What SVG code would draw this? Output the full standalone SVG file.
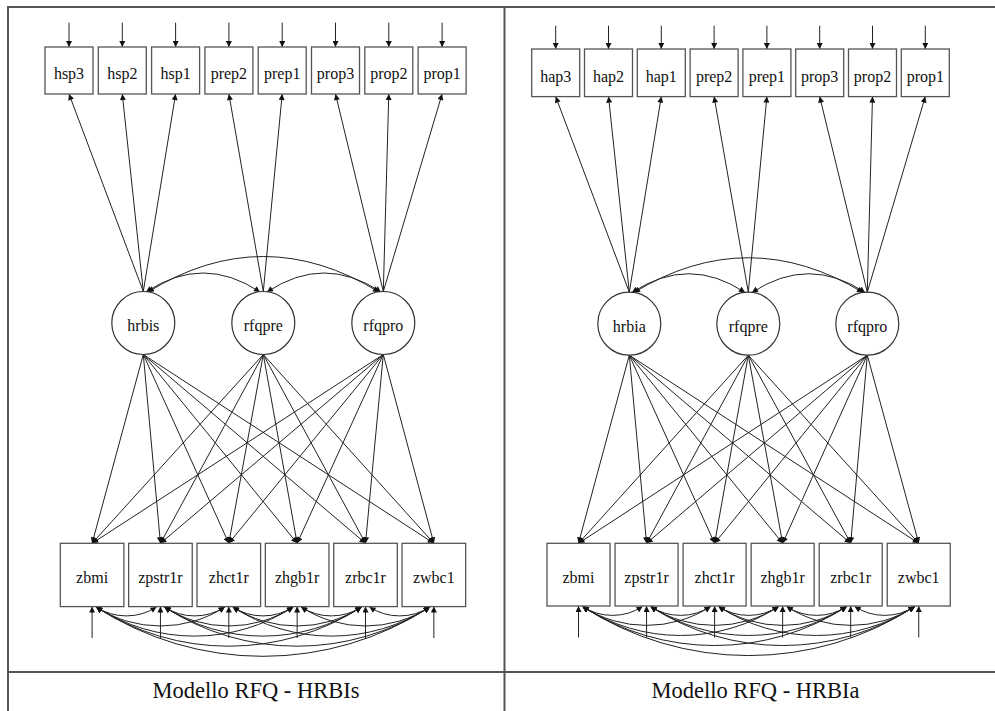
<svg xmlns="http://www.w3.org/2000/svg" width="995" height="711" viewBox="0 0 995 711">
<style>
.bx{fill:#fff;stroke:#555;stroke-width:1.3}
.lv{fill:#fff;stroke:#333;stroke-width:1.2}
.t{font-family:"Liberation Serif","Tinos","Times New Roman","DejaVu Serif",serif;font-size:16px;text-anchor:middle;fill:#111}
.ti{font-family:"Liberation Serif","Tinos","Times New Roman","DejaVu Serif",serif;font-size:22.5px;text-anchor:middle;fill:#111}
.e{stroke:#222;stroke-width:1;fill:none;marker-end:url(#ah)}
.c{stroke:#222;stroke-width:1;fill:none;marker-start:url(#ah);marker-end:url(#ah)}
.fr{stroke:#555;stroke-width:2;fill:none}
</style>
<defs>
<marker id="ah" viewBox="0 0 10 10" refX="10" refY="5" markerWidth="7" markerHeight="6" markerUnits="userSpaceOnUse" orient="auto-start-reverse"><path d="M0,0 L10,5 L0,10 z" fill="#111"/></marker>
</defs>
<rect width="995" height="711" fill="#fff"/>
<g id="frame">
<line class="fr" x1="7" y1="7" x2="995" y2="7"/>
<line class="fr" x1="8" y1="6" x2="8" y2="711"/>
<line class="fr" x1="504.5" y1="6" x2="504.5" y2="711"/>
<line class="fr" x1="8" y1="672" x2="995" y2="672"/>
</g>
<g id="connectors">
<line class="e" x1="69" y1="22.7" x2="69" y2="47"/>
<line class="e" x1="122.3" y1="22.7" x2="122.3" y2="47"/>
<line class="e" x1="175.6" y1="22.7" x2="175.6" y2="47"/>
<line class="e" x1="228.9" y1="22.7" x2="228.9" y2="47"/>
<line class="e" x1="282.2" y1="22.7" x2="282.2" y2="47"/>
<line class="e" x1="335.5" y1="22.7" x2="335.5" y2="47"/>
<line class="e" x1="388.8" y1="22.7" x2="388.8" y2="47"/>
<line class="e" x1="442.1" y1="22.7" x2="442.1" y2="47"/>
<line class="e" x1="143.3" y1="291.5" x2="69" y2="94"/>
<line class="e" x1="143.3" y1="291.5" x2="122.3" y2="94"/>
<line class="e" x1="143.3" y1="291.5" x2="175.6" y2="94"/>
<line class="e" x1="263.3" y1="291.5" x2="228.9" y2="94"/>
<line class="e" x1="263.3" y1="291.5" x2="282.2" y2="94"/>
<line class="e" x1="383.3" y1="291.5" x2="335.5" y2="94"/>
<line class="e" x1="383.3" y1="291.5" x2="388.8" y2="94"/>
<line class="e" x1="383.3" y1="291.5" x2="442.1" y2="94"/>
<path class="c" d="M146,292 Q203,254 260,292"/>
<path class="c" d="M267,292 Q324,254 381,292"/>
<path class="c" d="M148,292 Q263,221 379,292"/>
<line class="e" x1="143.3" y1="354.5" x2="92.1" y2="543.3"/>
<line class="e" x1="143.3" y1="354.5" x2="160.45" y2="543.3"/>
<line class="e" x1="143.3" y1="354.5" x2="228.8" y2="543.3"/>
<line class="e" x1="143.3" y1="354.5" x2="297.15" y2="543.3"/>
<line class="e" x1="143.3" y1="354.5" x2="365.5" y2="543.3"/>
<line class="e" x1="143.3" y1="354.5" x2="433.85" y2="543.3"/>
<line class="e" x1="263.3" y1="354.5" x2="92.1" y2="543.3"/>
<line class="e" x1="263.3" y1="354.5" x2="160.45" y2="543.3"/>
<line class="e" x1="263.3" y1="354.5" x2="228.8" y2="543.3"/>
<line class="e" x1="263.3" y1="354.5" x2="297.15" y2="543.3"/>
<line class="e" x1="263.3" y1="354.5" x2="365.5" y2="543.3"/>
<line class="e" x1="263.3" y1="354.5" x2="433.85" y2="543.3"/>
<line class="e" x1="383.3" y1="354.5" x2="92.1" y2="543.3"/>
<line class="e" x1="383.3" y1="354.5" x2="160.45" y2="543.3"/>
<line class="e" x1="383.3" y1="354.5" x2="228.8" y2="543.3"/>
<line class="e" x1="383.3" y1="354.5" x2="297.15" y2="543.3"/>
<line class="e" x1="383.3" y1="354.5" x2="365.5" y2="543.3"/>
<line class="e" x1="383.3" y1="354.5" x2="433.85" y2="543.3"/>
<line class="e" x1="92.1" y1="638" x2="92.1" y2="606.6"/>
<line class="e" x1="160.45" y1="638" x2="160.45" y2="606.6"/>
<line class="e" x1="228.8" y1="638" x2="228.8" y2="606.6"/>
<line class="e" x1="297.15" y1="638" x2="297.15" y2="606.6"/>
<line class="e" x1="365.5" y1="638" x2="365.5" y2="606.6"/>
<line class="e" x1="433.85" y1="638" x2="433.85" y2="606.6"/>
<path class="c" d="M96.1,607 A55.5,55.5 0 0 0 156.45,607"/>
<path class="c" d="M96.1,607 A118.4,118.4 0 0 0 224.8,607"/>
<path class="c" d="M96.1,607 A181.3,181.3 0 0 0 293.15,607"/>
<path class="c" d="M96.1,607 A244.2,244.2 0 0 0 361.5,607"/>
<path class="c" d="M96.1,607 A307,307 0 0 0 429.85,607"/>
<path class="c" d="M164.45,607 A55.5,55.5 0 0 0 224.8,607"/>
<path class="c" d="M164.45,607 A118.4,118.4 0 0 0 293.15,607"/>
<path class="c" d="M164.45,607 A181.3,181.3 0 0 0 361.5,607"/>
<path class="c" d="M164.45,607 A244.2,244.2 0 0 0 429.85,607"/>
<path class="c" d="M232.8,607 A55.5,55.5 0 0 0 293.15,607"/>
<path class="c" d="M232.8,607 A118.4,118.4 0 0 0 361.5,607"/>
<path class="c" d="M232.8,607 A181.3,181.3 0 0 0 429.85,607"/>
<path class="c" d="M301.15,607 A55.5,55.5 0 0 0 361.5,607"/>
<path class="c" d="M301.15,607 A118.4,118.4 0 0 0 429.85,607"/>
<path class="c" d="M369.5,607 A55.5,55.5 0 0 0 429.85,607"/>
<line class="e" x1="555.7" y1="25.7" x2="555.7" y2="49"/>
<line class="e" x1="608.5" y1="25.7" x2="608.5" y2="49"/>
<line class="e" x1="661.3" y1="25.7" x2="661.3" y2="49"/>
<line class="e" x1="714.1" y1="25.7" x2="714.1" y2="49"/>
<line class="e" x1="766.9" y1="25.7" x2="766.9" y2="49"/>
<line class="e" x1="819.7" y1="25.7" x2="819.7" y2="49"/>
<line class="e" x1="872.5" y1="25.7" x2="872.5" y2="49"/>
<line class="e" x1="925.3" y1="25.7" x2="925.3" y2="49"/>
<line class="e" x1="629.3" y1="292.2" x2="555.7" y2="96.6"/>
<line class="e" x1="629.3" y1="292.2" x2="608.5" y2="96.6"/>
<line class="e" x1="629.3" y1="292.2" x2="661.3" y2="96.6"/>
<line class="e" x1="748.3" y1="292.2" x2="714.1" y2="96.6"/>
<line class="e" x1="748.3" y1="292.2" x2="766.9" y2="96.6"/>
<line class="e" x1="867.3" y1="292.2" x2="819.7" y2="96.6"/>
<line class="e" x1="867.3" y1="292.2" x2="872.5" y2="96.6"/>
<line class="e" x1="867.3" y1="292.2" x2="925.3" y2="96.6"/>
<path class="c" d="M632,292.5 Q689,255 745,292.5"/>
<path class="c" d="M752,292.5 Q809,255 865,292.5"/>
<path class="c" d="M634,292.5 Q748,223 863,292.5"/>
<line class="e" x1="629.3" y1="355.2" x2="578.5" y2="543.3"/>
<line class="e" x1="629.3" y1="355.2" x2="646.55" y2="543.3"/>
<line class="e" x1="629.3" y1="355.2" x2="714.6" y2="543.3"/>
<line class="e" x1="629.3" y1="355.2" x2="782.65" y2="543.3"/>
<line class="e" x1="629.3" y1="355.2" x2="850.7" y2="543.3"/>
<line class="e" x1="629.3" y1="355.2" x2="918.75" y2="543.3"/>
<line class="e" x1="748.3" y1="355.2" x2="578.5" y2="543.3"/>
<line class="e" x1="748.3" y1="355.2" x2="646.55" y2="543.3"/>
<line class="e" x1="748.3" y1="355.2" x2="714.6" y2="543.3"/>
<line class="e" x1="748.3" y1="355.2" x2="782.65" y2="543.3"/>
<line class="e" x1="748.3" y1="355.2" x2="850.7" y2="543.3"/>
<line class="e" x1="748.3" y1="355.2" x2="918.75" y2="543.3"/>
<line class="e" x1="867.3" y1="355.2" x2="578.5" y2="543.3"/>
<line class="e" x1="867.3" y1="355.2" x2="646.55" y2="543.3"/>
<line class="e" x1="867.3" y1="355.2" x2="714.6" y2="543.3"/>
<line class="e" x1="867.3" y1="355.2" x2="782.65" y2="543.3"/>
<line class="e" x1="867.3" y1="355.2" x2="850.7" y2="543.3"/>
<line class="e" x1="867.3" y1="355.2" x2="918.75" y2="543.3"/>
<line class="e" x1="578.5" y1="637.5" x2="578.5" y2="606"/>
<line class="e" x1="646.55" y1="637.5" x2="646.55" y2="606"/>
<line class="e" x1="714.6" y1="637.5" x2="714.6" y2="606"/>
<line class="e" x1="782.65" y1="637.5" x2="782.65" y2="606"/>
<line class="e" x1="850.7" y1="637.5" x2="850.7" y2="606"/>
<line class="e" x1="918.75" y1="637.5" x2="918.75" y2="606"/>
<path class="c" d="M582.5,606.5 A55.2,55.2 0 0 0 642.55,606.5"/>
<path class="c" d="M582.5,606.5 A117.9,117.9 0 0 0 710.6,606.5"/>
<path class="c" d="M582.5,606.5 A180.5,180.5 0 0 0 778.65,606.5"/>
<path class="c" d="M582.5,606.5 A243.1,243.1 0 0 0 846.7,606.5"/>
<path class="c" d="M582.5,606.5 A305.7,305.7 0 0 0 914.75,606.5"/>
<path class="c" d="M650.55,606.5 A55.2,55.2 0 0 0 710.6,606.5"/>
<path class="c" d="M650.55,606.5 A117.9,117.9 0 0 0 778.65,606.5"/>
<path class="c" d="M650.55,606.5 A180.5,180.5 0 0 0 846.7,606.5"/>
<path class="c" d="M650.55,606.5 A243.1,243.1 0 0 0 914.75,606.5"/>
<path class="c" d="M718.6,606.5 A55.2,55.2 0 0 0 778.65,606.5"/>
<path class="c" d="M718.6,606.5 A117.9,117.9 0 0 0 846.7,606.5"/>
<path class="c" d="M718.6,606.5 A180.5,180.5 0 0 0 914.75,606.5"/>
<path class="c" d="M786.65,606.5 A55.2,55.2 0 0 0 846.7,606.5"/>
<path class="c" d="M786.65,606.5 A117.9,117.9 0 0 0 914.75,606.5"/>
<path class="c" d="M854.7,606.5 A55.2,55.2 0 0 0 914.75,606.5"/>
</g>
<g id="L_hsp3"><rect class="bx" x="45" y="47" width="48" height="47"/><text class="t" x="69" y="79">hsp3</text></g>
<g id="L_hsp2"><rect class="bx" x="98.3" y="47" width="48" height="47"/><text class="t" x="122.3" y="79">hsp2</text></g>
<g id="L_hsp1"><rect class="bx" x="151.6" y="47" width="48" height="47"/><text class="t" x="175.6" y="79">hsp1</text></g>
<g id="L_prep2"><rect class="bx" x="204.9" y="47" width="48" height="47"/><text class="t" x="228.9" y="79">prep2</text></g>
<g id="L_prep1"><rect class="bx" x="258.2" y="47" width="48" height="47"/><text class="t" x="282.2" y="79">prep1</text></g>
<g id="L_prop3"><rect class="bx" x="311.5" y="47" width="48" height="47"/><text class="t" x="335.5" y="79">prop3</text></g>
<g id="L_prop2"><rect class="bx" x="364.8" y="47" width="48" height="47"/><text class="t" x="388.8" y="79">prop2</text></g>
<g id="L_prop1"><rect class="bx" x="418.1" y="47" width="48" height="47"/><text class="t" x="442.1" y="79">prop1</text></g>
<g id="L_hrbis"><circle class="lv" cx="143.3" cy="323" r="31.5"/><text class="t" x="143.3" y="331">hrbis</text></g>
<g id="L_rfqpre"><circle class="lv" cx="263.3" cy="323" r="31.5"/><text class="t" x="263.3" y="331">rfqpre</text></g>
<g id="L_rfqpro"><circle class="lv" cx="383.3" cy="323" r="31.5"/><text class="t" x="383.3" y="331">rfqpro</text></g>
<g id="L_zbmi"><rect class="bx" x="60.3" y="543.3" width="63.6" height="63.3"/><text class="t" x="92.1" y="583">zbmi</text></g>
<g id="L_zpstr1r"><rect class="bx" x="128.65" y="543.3" width="63.6" height="63.3"/><text class="t" x="160.45" y="583">zpstr1r</text></g>
<g id="L_zhct1r"><rect class="bx" x="197" y="543.3" width="63.6" height="63.3"/><text class="t" x="228.8" y="583">zhct1r</text></g>
<g id="L_zhgb1r"><rect class="bx" x="265.35" y="543.3" width="63.6" height="63.3"/><text class="t" x="297.15" y="583">zhgb1r</text></g>
<g id="L_zrbc1r"><rect class="bx" x="333.7" y="543.3" width="63.6" height="63.3"/><text class="t" x="365.5" y="583">zrbc1r</text></g>
<g id="L_zwbc1"><rect class="bx" x="402.05" y="543.3" width="63.6" height="63.3"/><text class="t" x="433.85" y="583">zwbc1</text></g>
<g id="L_title"><text class="ti" x="256" y="698">Modello RFQ - HRBIs</text></g>
<g id="R_hap3"><rect class="bx" x="531.7" y="49" width="48" height="47.6"/><text class="t" x="555.7" y="81.5">hap3</text></g>
<g id="R_hap2"><rect class="bx" x="584.5" y="49" width="48" height="47.6"/><text class="t" x="608.5" y="81.5">hap2</text></g>
<g id="R_hap1"><rect class="bx" x="637.3" y="49" width="48" height="47.6"/><text class="t" x="661.3" y="81.5">hap1</text></g>
<g id="R_prep2"><rect class="bx" x="690.1" y="49" width="48" height="47.6"/><text class="t" x="714.1" y="81.5">prep2</text></g>
<g id="R_prep1"><rect class="bx" x="742.9" y="49" width="48" height="47.6"/><text class="t" x="766.9" y="81.5">prep1</text></g>
<g id="R_prop3"><rect class="bx" x="795.7" y="49" width="48" height="47.6"/><text class="t" x="819.7" y="81.5">prop3</text></g>
<g id="R_prop2"><rect class="bx" x="848.5" y="49" width="48" height="47.6"/><text class="t" x="872.5" y="81.5">prop2</text></g>
<g id="R_prop1"><rect class="bx" x="901.3" y="49" width="48" height="47.6"/><text class="t" x="925.3" y="81.5">prop1</text></g>
<g id="R_hrbia"><circle class="lv" cx="629.3" cy="323.7" r="31.5"/><text class="t" x="629.3" y="331.7">hrbia</text></g>
<g id="R_rfqpre"><circle class="lv" cx="748.3" cy="323.7" r="31.5"/><text class="t" x="748.3" y="331.7">rfqpre</text></g>
<g id="R_rfqpro"><circle class="lv" cx="867.3" cy="323.7" r="31.5"/><text class="t" x="867.3" y="331.7">rfqpro</text></g>
<g id="R_zbmi"><rect class="bx" x="547" y="543.3" width="63" height="62.7"/><text class="t" x="578.5" y="582.5">zbmi</text></g>
<g id="R_zpstr1r"><rect class="bx" x="615.05" y="543.3" width="63" height="62.7"/><text class="t" x="646.55" y="582.5">zpstr1r</text></g>
<g id="R_zhct1r"><rect class="bx" x="683.1" y="543.3" width="63" height="62.7"/><text class="t" x="714.6" y="582.5">zhct1r</text></g>
<g id="R_zhgb1r"><rect class="bx" x="751.15" y="543.3" width="63" height="62.7"/><text class="t" x="782.65" y="582.5">zhgb1r</text></g>
<g id="R_zrbc1r"><rect class="bx" x="819.2" y="543.3" width="63" height="62.7"/><text class="t" x="850.7" y="582.5">zrbc1r</text></g>
<g id="R_zwbc1"><rect class="bx" x="887.25" y="543.3" width="63" height="62.7"/><text class="t" x="918.75" y="582.5">zwbc1</text></g>
<g id="R_title"><text class="ti" x="755.5" y="698">Modello RFQ - HRBIa</text></g>
</svg>
